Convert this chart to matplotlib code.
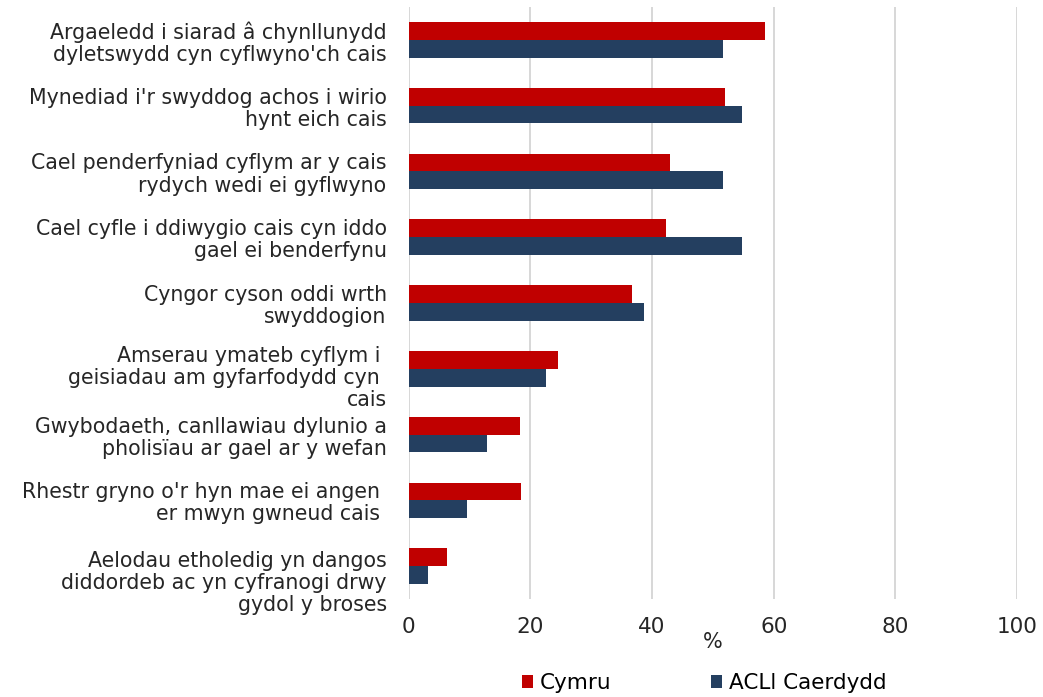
import numpy as np
import matplotlib
matplotlib.use('Agg')
import matplotlib.pyplot as plt
import matplotlib.transforms as mtransforms

categories = [
    "Argaeledd i siarad â chynllunydd\ndyletswydd cyn cyflwyno'ch cais",
    "Mynediad i'r swyddog achos i wirio\nhynt eich cais",
    "Cael penderfyniad cyflym ar y cais\nrydych wedi ei gyflwyno",
    "Cael cyfle i ddiwygio cais cyn iddo\ngael ei benderfynu",
    "Cyngor cyson oddi wrth\nswyddogion",
    "Amserau ymateb cyflym i \ngeisiadau am gyfarfodydd cyn \ncais",
    "Gwybodaeth, canllawiau dylunio a\npholisïau ar gael ar y wefan",
    "Rhestr gryno o'r hyn mae ei angen \ner mwyn gwneud cais ",
    "Aelodau etholedig yn dangos\ndiddordeb ac yn cyfranogi drwy\ngydol y broses",
]
cymru = [58.6, 52.0, 42.9, 42.3, 36.7, 24.6, 18.3, 18.5, 6.3]
caerdydd = [51.6, 54.8, 51.6, 54.8, 38.7, 22.5, 12.8, 9.6, 3.1]
xticks = [0, 20, 40, 60, 80, 100]

red = '#C00000'
navy = '#243F60'
txt = '#262626'

fig = plt.figure(figsize=(10.43, 6.97), dpi=100)
ax = fig.add_axes([0.392, 0.1406, 0.583, 0.8494])

y = np.arange(len(categories))
h = 0.27
ax.barh(y - h / 2, cymru, height=h, color=red, label='Cymru', zorder=3)
ax.barh(y + h / 2, caerdydd, height=h, color=navy, label='ACLl Caerdydd', zorder=3)

ax.set_xlim(0, 100)
ax.set_ylim(len(categories) - 0.5, -0.5)
ax.set_xticks(xticks)
ax.set_xticklabels([str(t) for t in xticks], fontsize=15.5, color=txt)
ax.set_yticks(y)
ax.set_yticklabels(categories, fontsize=14.8, color=txt, ha='right',
                   multialignment='right', linespacing=1.13)
ax.tick_params(axis='both', length=0)
ax.tick_params(axis='y', pad=16)
ax.tick_params(axis='x', pad=13)
for s in ax.spines.values():
    s.set_visible(False)
ax.grid(axis='x', color='#d4d4d4', linewidth=1.3, zorder=0)

# three-line labels sit a little lower in the original
for lab in ax.get_yticklabels():
    if lab.get_text().count('\n') == 2:
        off = -6 if 'cais' in lab.get_text() else -14
        lab.set_transform(lab.get_transform() +
                          mtransforms.ScaledTranslation(0, off / 100, fig.dpi_scale_trans))

ax.set_xlabel('%', fontsize=15, color=txt, labelpad=-4)

ax.legend(loc='center', bbox_to_anchor=(0.675, 0.02), bbox_transform=fig.transFigure,
          ncol=2, frameon=False, fontsize=15.5, handlelength=0.55, handleheight=0.55,
          handletextpad=0.3, columnspacing=4.6)

fig.savefig('out.png', dpi=100)
